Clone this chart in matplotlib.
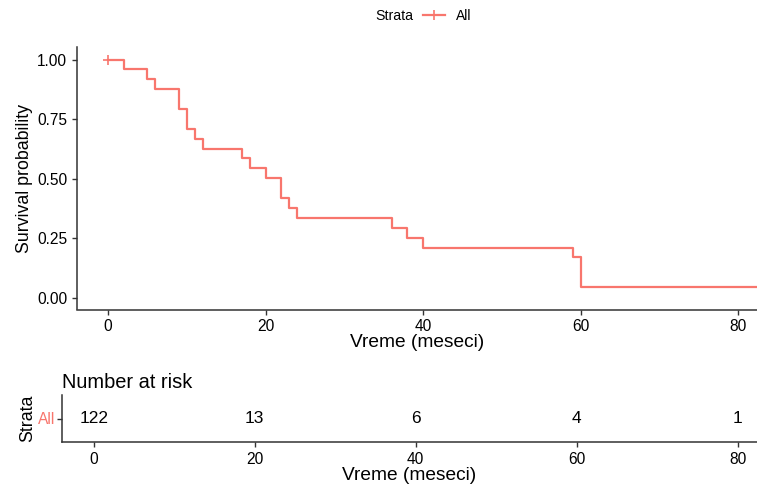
import matplotlib
matplotlib.use('Agg')
import matplotlib.pyplot as plt
from matplotlib.lines import Line2D

plt.rcParams['font.family'] = ['Liberation Sans', 'DejaVu Sans']

# Kaplan-Meier estimate
times = [0, 2, 5, 6, 9, 10, 11, 12, 17, 18, 20, 22, 23, 24, 36, 38, 40, 59, 60]
surv = [1.0, 0.962, 0.920, 0.878, 0.794, 0.711, 0.669, 0.627, 0.587, 0.545,
        0.503, 0.420, 0.378, 0.336, 0.294, 0.252, 0.210, 0.169, 0.045]
end_time = 84
censor_times = [0]
censor_surv = [1.0]

# number at risk table
risk_times = [0, 20, 40, 60, 80]
n_risk = [122, 13, 6, 4, 1]

strata = 'All'
color = '#F8766D'
axis_col = '#333333'
xlim = (-3.95, 82.4)
xticks = [0, 20, 40, 60, 80]
tick_size = 11.2

fig = plt.figure(figsize=(7.57, 4.86), dpi=100)

# ---------------- survival curve ----------------
ax = fig.add_axes([77 / 757, 1 - 309.5 / 486, 680 / 757, 262.5 / 486])
ax.step(times + [end_time], surv + [surv[-1]], where='post', color=color, lw=1.6)
ax.plot(censor_times, censor_surv, marker='+', ls='none', color=color, ms=7, mew=1.2)
ax.set_xlim(*xlim)
ax.set_ylim(-0.05, 1.055)
ax.set_xticks(xticks)
ax.set_yticks([0, 0.25, 0.5, 0.75, 1.0])
ax.set_yticklabels(['0.00', '0.25', '0.50', '0.75', '1.00'])
ax.set_xlabel('Vreme (meseci)', fontsize=13.8, labelpad=0)
ax.set_ylabel('Survival probability', fontsize=12.8, labelpad=3)

for spine in ['top', 'right']:
    ax.spines[spine].set_visible(False)
for spine in ['left', 'bottom']:
    ax.spines[spine].set_color(axis_col)
    ax.spines[spine].set_linewidth(1.1)
ax.tick_params(colors=axis_col, labelcolor='black', labelsize=tick_size, length=3.5, width=1.0)

# legend on top
fig.text(375 / 757, 1 - 16 / 486, 'Strata', fontsize=10.2, va='center', ha='left')
handle = Line2D([], [], color=color, lw=1.6, marker='+', ms=7, mew=1.2)
fig.legend(handles=[handle], labels=[strata], loc='center left',
           bbox_to_anchor=(423 / 757, 1 - 16 / 486), frameon=False,
           fontsize=10, handlelength=1.6, handletextpad=0.8, borderaxespad=0,
           borderpad=0)

# ---------------- risk table ----------------
rax = fig.add_axes([62 / 757, 1 - 442 / 486, 695 / 757, 47 / 486])
for t, n in zip(risk_times, n_risk):
    rax.text(t, 0, str(n), ha='center', va='center', fontsize=12.5)
rax.set_xlim(*xlim)
rax.set_ylim(-0.5, 0.5)
rax.set_xticks(xticks)
rax.set_yticks([0])
rax.set_yticklabels([strata])
rax.set_xlabel('Vreme (meseci)', fontsize=13.8, labelpad=0)
rax.set_ylabel('Strata', fontsize=12.8, labelpad=1)
rax.set_title('Number at risk', loc='left', fontsize=14.4, pad=5)

for spine in ['top', 'right']:
    rax.spines[spine].set_visible(False)
for spine in ['left', 'bottom']:
    rax.spines[spine].set_color(axis_col)
    rax.spines[spine].set_linewidth(1.1)
rax.tick_params(colors=axis_col, labelcolor='black', labelsize=tick_size, length=3.5, width=1.0)
rax.tick_params(axis='y', labelcolor=color, pad=1.5)

fig.savefig('out.png', dpi=100)
